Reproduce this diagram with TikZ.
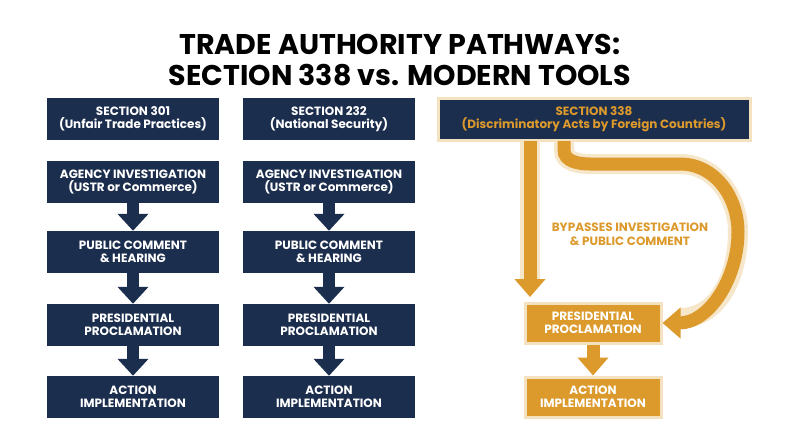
\documentclass[tikz,border=0pt]{standalone}
\usepackage{fontspec}
\setmainfont{Poppins}
\usetikzlibrary{arrows.meta, positioning, calc}
\definecolor{navy}{HTML}{1C2E4E}
\definecolor{gold}{HTML}{DC9A2C}
\begin{document}
\begin{tikzpicture}[
  x=1pt, y=-1pt,
  block/.style = {fill=navy, text=white, minimum height=42pt, minimum width=172pt, align=center, font=\bfseries\fontsize{12}{13.5}\selectfont, inner sep=0pt},
  gblock/.style = {block, fill=gold, minimum width=136pt, minimum height=40pt, draw=gold!30, line width=3pt},
  arrow/.style = {navy, line width=12pt, -{Triangle[width=30pt,length=17pt]}},
  garrow/.style = {gold, line width=13pt, -{Triangle[width=30pt,length=18pt]}}
]
  \useasboundingbox[fill=white] (0,0) rectangle (800,447);

  % Title
  \node[font=\bfseries\fontsize{28.5}{31}\selectfont, align=center] (title) at (400,60)
    {TRADE AUTHORITY PATHWAYS:\\SECTION 338 vs. MODERN TOOLS};

  % Section 301 column
  \node[block] (s301) at (133,119) {SECTION 301\\(Unfair Trade Practices)};
  \node[block] (inv1) at (133,182) {AGENCY INVESTIGATION\\(USTR or Commerce)};
  \node[block] (pub1) at (133,252) {PUBLIC COMMENT\\\& HEARING};
  \node[block] (pro1) at (133,325) {PRESIDENTIAL\\PROCLAMATION};
  \node[block] (act1) at (133,397) {ACTION\\IMPLEMENTATION};

  % Section 232 column
  \node[block] (s232) at (329,119) {SECTION 232\\(National Security)};
  \node[block] (inv2) at (329,182) {AGENCY INVESTIGATION\\(USTR or Commerce)};
  \node[block] (pub2) at (329,252) {PUBLIC COMMENT\\\& HEARING};
  \node[block] (pro2) at (329,325) {PRESIDENTIAL\\PROCLAMATION};
  \node[block] (act2) at (329,397) {ACTION\\IMPLEMENTATION};

  \foreach \a/\b in {inv1/pub1, pub1/pro1, pro1/act1, inv2/pub2, pub2/pro2, pro2/act2}
    \draw[arrow] (\a.south) -- (\b.north);

  % Section 338 column
  \node[block, minimum width=312pt, text=gold, draw=gold!30, line width=3pt] (s338) at (594,119)
    {SECTION 338\\(Discriminatory Acts by Foreign Countries)};
  \node[gblock] (pro3) at (593,323) {PRESIDENTIAL\\PROCLAMATION};
  \node[gblock] (act3) at (593,397) {ACTION\\IMPLEMENTATION};

  \coordinate (direct) at (530,141);
  \coordinate (bypass) at (564,141);
  \draw[gold!25, line width=20pt] (direct) -- (530,282);
  \draw[gold!25, line width=20pt] (bypass) -- (564,150) to[out=-90,in=180] (590,164) -- (680,164)
    to[out=0,in=90] (738,232) to[out=-90,in=0] (680,318);
  \draw[garrow] (direct) -- (530,297);
  \draw[garrow] (bypass) -- (564,150) to[out=-90,in=180] (590,164) -- (680,164)
    to[out=0,in=90] (738,232) to[out=-90,in=0] (pro3.east);
  \draw[garrow] (pro3.south) -- (act3.north);

  \node[text=gold, font=\bfseries\fontsize{12}{14}\selectfont, align=center] (note) at (630,234)
    {BYPASSES INVESTIGATION\\\& PUBLIC COMMENT};
\end{tikzpicture}
\end{document}
